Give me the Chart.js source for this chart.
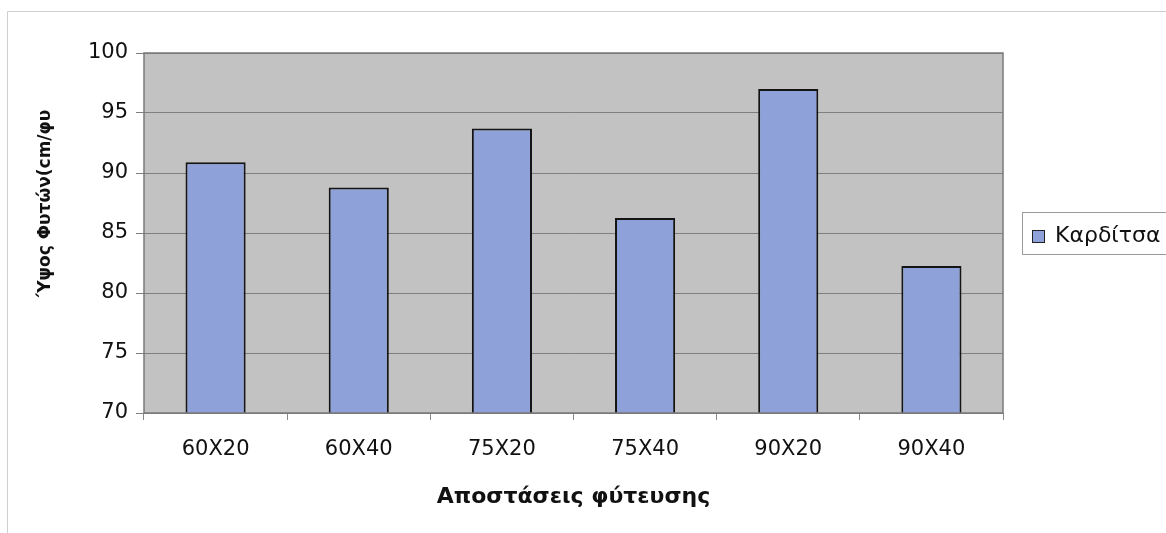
<!DOCTYPE html>
<html>
<head>
<meta charset="utf-8">
<script src="https://cdn.jsdelivr.net/npm/chart.js@4/dist/chart.umd.min.js"></script>
<style>
  html, body { margin: 0; padding: 0; background: #ffffff; }
  #wrap { width: 1166px; height: 533px; }
</style>
</head>
<body>
<div id="wrap"><canvas id="c" width="1166" height="533"></canvas></div>
<script>
const categories = ['60X20', '60X40', '75X20', '75X40', '90X20', '90X40'];
const seriesName = 'Καρδίτσα';
const heights = [90.9, 88.8, 93.7, 86.25, 97.0, 82.25];
const yTicks = [70, 75, 80, 85, 90, 95, 100];
const xTitle = 'Αποστάσεις φύτευσης';
const yTitle = '΄Υψος Φυτών(cm/φυ';

const FONT = "'DejaVu Sans', 'Liberation Sans', Arial, sans-serif";
const BAR_FILL = '#8ea1d8';

const decor = {
  id: 'decor',
  beforeDraw(chart) {
    const { ctx, chartArea: a } = chart;
    ctx.save();
    // outer chart frame (partially visible)
    ctx.strokeStyle = '#cfcfcf';
    ctx.lineWidth = 1;
    ctx.beginPath();
    ctx.moveTo(7.5, 600);
    ctx.lineTo(7.5, 11.5);
    ctx.lineTo(1200, 11.5);
    ctx.stroke();
    // plot area fill
    ctx.fillStyle = '#c2c2c2';
    ctx.fillRect(a.left, a.top, a.right - a.left, a.bottom - a.top);
    ctx.restore();
  },
  afterDatasetsDraw(chart) {
    const { ctx, chartArea: a } = chart;
    ctx.save();
    ctx.strokeStyle = '#7a7a7a';
    ctx.lineWidth = 1.5;
    ctx.strokeRect(a.left, a.top, a.right - a.left, a.bottom - a.top);
    ctx.restore();
  },
  afterDraw(chart) {
    const { ctx } = chart;
    const ds = chart.data.datasets[0];
    ctx.save();
    // y axis title (placed as in the reference, slightly above centre)
    ctx.save();
    ctx.translate(46, 205);
    ctx.rotate(-Math.PI / 2);
    ctx.fillStyle = '#111';
    ctx.font = 'bold 17px ' + FONT;
    ctx.textAlign = 'center';
    ctx.textBaseline = 'middle';
    ctx.fillText(yTitle, 0, 0);
    ctx.restore();
    // legend frame
    ctx.strokeStyle = '#9a9a9a';
    ctx.lineWidth = 1;
    ctx.strokeRect(1022.5, 212.5, 150, 42);
    // legend swatch
    ctx.fillStyle = ds.backgroundColor;
    ctx.fillRect(1032, 230, 13, 13);
    ctx.strokeStyle = '#222';
    ctx.lineWidth = 1;
    ctx.strokeRect(1032.5, 230.5, 12, 12);
    // legend text
    ctx.fillStyle = '#111';
    ctx.font = '22px ' + FONT;
    ctx.textBaseline = 'middle';
    ctx.textAlign = 'left';
    ctx.fillText(ds.label, 1055, 236);
    ctx.restore();
  }
};

new Chart(document.getElementById('c'), {
  type: 'bar',
  data: {
    labels: categories,
    datasets: [{
      label: seriesName,
      data: heights,
      backgroundColor: BAR_FILL,
      borderColor: '#141414',
      borderWidth: 2,
      borderSkipped: false,
      categoryPercentage: 1.0,
      barPercentage: 0.42
    }]
  },
  options: {
    responsive: false,
    animation: false,
    layout: { padding: { left: 8, top: 53, right: 163, bottom: 10 } },
    plugins: {
      legend: { display: false },
      tooltip: { enabled: false }
    },
    scales: {
      x: {
        grid: {
          offset: true,
          drawOnChartArea: false,
          drawTicks: true,
          tickLength: 7,
          color: '#8a8a8a'
        },
        border: { display: false },
        ticks: {
          color: '#111',
          font: { family: FONT, size: 21 },
          padding: 17,
          maxRotation: 0
        },
        title: {
          display: true,
          text: xTitle,
          color: '#111',
          font: { family: FONT, size: 22, weight: 'bold' },
          padding: { top: 0, bottom: 13 }
        },
        afterFit(scale) { scale.height = 533 - 10 - 413; }
      },
      y: {
        min: 70,
        max: 100,
        afterBuildTicks(scale) { scale.ticks = yTicks.map(v => ({ value: v })); },
        grid: {
          color: '#7f7f7f',
          lineWidth: 1,
          drawTicks: true,
          tickLength: 8
        },
        border: { display: false },
        ticks: {
          color: '#111',
          font: { family: FONT, size: 21 },
          padding: 8
        },
        title: { display: false },
        afterFit(scale) { scale.width = 144 - 8; }
      }
    }
  },
  plugins: [decor]
});
</script>
</body>
</html>
